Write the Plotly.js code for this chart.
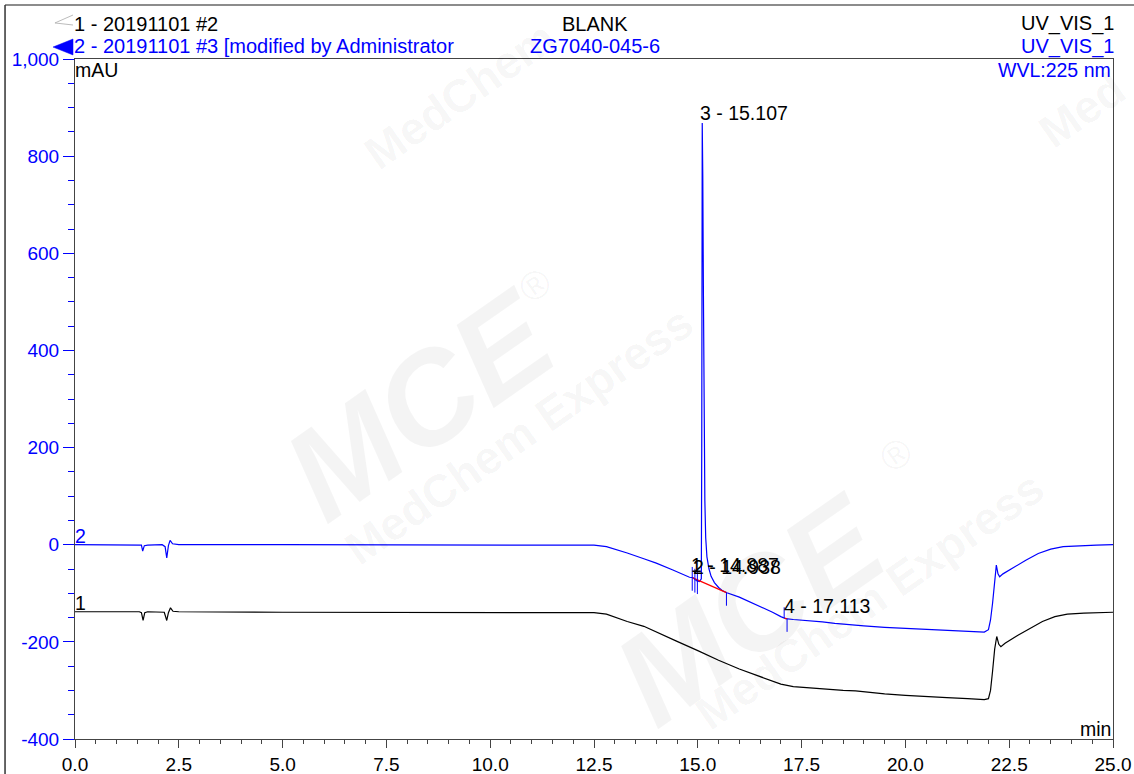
<!DOCTYPE html>
<html>
<head>
<meta charset="utf-8">
<script src="https://cdn.plot.ly/plotly-3.0.1.min.js"></script>
<style>html,body{margin:0;padding:0;background:#fff;}#chart{width:1134px;height:774px;}</style>
</head>
<body>
<div id="chart"></div>
<script>
// ---- Data ----
// Trace 2 (blue): 20191101 #3 – ZG7040-045-6
const timeBlue = [0, 0.8, 1.5, 1.6, 1.63, 1.67, 1.75, 2.1, 2.17, 2.21, 2.25, 2.29, 2.35, 2.5, 5, 8, 10, 12, 12.5, 12.8, 13.0, 13.3, 13.7, 14.0, 14.4, 14.8, 14.887, 14.92, 14.938, 14.97, 15.04, 15.085, 15.095, 15.107, 15.12, 15.135, 15.15, 15.17, 15.19, 15.22, 15.27, 15.32, 15.4, 15.5, 15.6, 15.7, 16.0, 16.5, 16.8, 17.0, 17.113, 17.3, 17.5, 17.8, 18.0, 18.3, 18.5, 18.8, 19.0, 19.5, 20.0, 20.5, 21.0, 21.5, 21.9, 22.0, 22.05, 22.1, 22.15, 22.19, 22.23, 22.27, 22.35, 22.6, 22.9, 23.2, 23.5, 23.8, 24.2, 24.6, 25];
const valBlue  = [0, 0, 0, -1, -13, -2, -1, 0, -4, -27, -2, 9, 2, 0, 0, 0, 0, 0, -1, -4, -9, -17, -29, -38, -52, -67, -68, -71, -72, -74, -76, -70, 200, 868, 760, 520, 300, 90, 15, -25, -50, -65, -78, -88, -95, -99, -108, -127, -139, -148, -152, -154, -155, -158, -159, -162, -163, -165, -167, -170, -172, -174, -176, -178, -180, -175, -155, -120, -70, -42, -60, -66, -60, -47, -32, -18, -9, -4, -2, -1, 0];

// Trace 1 (black): 20191101 #2 – BLANK
const timeBlack = [0, 0.8, 1.55, 1.6, 1.64, 1.68, 1.75, 2.15, 2.21, 2.25, 2.3, 2.36, 2.5, 5, 8, 10, 12, 12.5, 12.8, 13.0, 13.3, 13.7, 14.0, 14.5, 15.0, 15.5, 16.0, 16.5, 16.8, 17.0, 17.3, 17.7, 18.0, 18.5, 18.8, 19.0, 19.5, 20.0, 20.5, 21.0, 21.5, 21.9, 22.0, 22.05, 22.1, 22.15, 22.2, 22.25, 22.3, 22.4, 22.7, 23.0, 23.3, 23.6, 23.9, 24.3, 24.7, 25];
const valBlack  = [-138, -138, -138, -140, -156, -140, -138, -139, -156, -140, -130, -137, -138, -139, -139, -139, -139, -140, -143, -149, -158, -168, -180, -199, -218, -238, -256, -272, -281, -287, -292, -295, -297, -300, -301, -303, -307, -310, -313, -315, -317, -319, -317, -300, -260, -215, -189, -205, -210, -203, -187, -172, -158, -148, -143, -141, -140, -139];

// Peak table (trace 2)
const peakTimes  = [14.887, 14.938, 15.107, 17.113];
const peakLabels = ["1 - 14.887", "2 - 14.938", "3 - 15.107", "4 - 17.113"];
// Peak delimiters (0 = both sides, 1 = above, -1 = below) and integration baselines
const delimTimes = [14.866, 14.93, 14.99, 15.69, 17.08, 17.15];
const delimDir   = [0, 0, 0, -1, 1, -1];
const baseStart  = [14.866, 17.08];
const baseEnd    = [15.69, 17.15];

// Axis ticks
const yTickVals = [-400, -200, 0, 200, 400, 600, 800, 1000];
const yTickText = ["-400", "-200", "0", "200", "400", "600", "800", "1,000"];

// Header texts
const headerLeft   = ["1 - 20191101 #2", "2 - 20191101 #3 [modified by Administrator"];
const headerCenter = ["BLANK", "ZG7040-045-6"];
const headerRight  = ["UV_VIS_1", "UV_VIS_1"];

// ---- helpers ----
function interp(xs, ys, x) {
  for (let i = 0; i < xs.length - 1; i++) {
    if (x >= xs[i] && x <= xs[i + 1]) {
      const f = (x - xs[i]) / (xs[i + 1] - xs[i]);
      return ys[i] + f * (ys[i + 1] - ys[i]);
    }
  }
  return ys[ys.length - 1];
}

const FONT = "Liberation Sans, Arial, sans-serif";
const FS = 19;      // tick labels
const FH = 20;      // header texts
const FA = 19.5;    // in-plot annotations
const BLUE = "#0000ff";

// delimiter tick marks (short vertical blue lines)
const dx = [], dy = [];
delimTimes.forEach((t, i) => {
  const v = interp(timeBlue, valBlue, t);
  const d = delimDir[i];
  const top = d >= 0 ? v + 22 : v;
  const bot = d <= 0 ? v - 27 : v;
  dx.push(t, t, null); dy.push(top, bot, null);
});
// red baselines
const rx = [], ry = [];
baseStart.forEach((s, i) => {
  const e = baseEnd[i];
  rx.push(s, e, null);
  ry.push(interp(timeBlue, valBlue, s), interp(timeBlue, valBlue, e), null);
});

const traces = [
  {x: timeBlack, y: valBlack, mode: "lines", line: {color: "#000000", width: 1.2}, hoverinfo: "skip"},
  {x: timeBlue, y: valBlue, mode: "lines", line: {color: BLUE, width: 1.2}, hoverinfo: "skip"},
  {x: rx, y: ry, mode: "lines", line: {color: "#ff0000", width: 1.2}, hoverinfo: "skip"},
  {x: dx, y: dy, mode: "lines", line: {color: BLUE, width: 1}, hoverinfo: "skip"}
];

const ann = [];
// watermark (faint) - drawn first
const wm = "rgba(0,0,0,0.045)";
const wmarks = [
  {x: 0.332, y: 0.491, t: "<b><i>MCE</i></b>", s: 130},
  {x: 0.428, y: 0.447, t: "<b>MedChem Express</b>", s: 46},
  {x: 0.650, y: 0.190, t: "<b><i>MCE</i></b>", s: 130},
  {x: 0.766, y: 0.204, t: "<b>MedChem Express</b>", s: 46},
  {x: 0.371, y: 0.947, t: "<b>MedChem</b>", s: 46},
  {x: 0.443, y: 0.668, t: "®", s: 40},
  {x: 0.790, y: 0.418, t: "®", s: 40},
  {x: 0.97, y: 0.925, t: "<b>Med</b>", s: 46}
];
wmarks.forEach(w => ann.push({x: w.x, y: w.y, xref: "paper", yref: "paper", text: w.t, showarrow: false, textangle: -35, xanchor: "center", yanchor: "middle", font: {family: FONT, size: w.s, color: wm}}));

// peak labels
peakTimes.forEach((t, i) => {
  const v = interp(timeBlue, valBlue, t);
  const top = i === 2 ? Math.max(...valBlue) : v;
  ann.push({x: t, y: top, xref: "x", yref: "y", text: peakLabels[i], showarrow: false,
    xanchor: "left", yanchor: "bottom", xshift: -4, yshift: i === 2 ? -3 : 0,
    font: {family: FONT, size: FA, color: "#000"}});
});
// trace numbers
ann.push({x: 0, y: valBlue[0], xref: "x", yref: "y", text: "2", showarrow: false, xanchor: "left", yanchor: "bottom", xshift: -2, yshift: -4, font: {family: FONT, size: FA, color: BLUE}});
ann.push({x: 0, y: valBlack[0], xref: "x", yref: "y", text: "1", showarrow: false, xanchor: "left", yanchor: "bottom", xshift: -2, yshift: -4, font: {family: FONT, size: FA, color: "#000"}});
// header
const hy = [1.0515, 1.019];
const hc = ["#000", BLUE];
for (let i = 0; i < 2; i++) {
  ann.push({x: 0, y: hy[i], xref: "paper", yref: "paper", text: headerLeft[i], showarrow: false, xanchor: "left", yanchor: "middle", xshift: -3, font: {family: FONT, size: FH, color: hc[i]}});
  ann.push({x: 0.501, y: hy[i], xref: "paper", yref: "paper", text: headerCenter[i], showarrow: false, xanchor: "center", yanchor: "middle", font: {family: FONT, size: FH, color: hc[i]}});
  ann.push({x: 1, y: hy[i], xref: "paper", yref: "paper", text: headerRight[i], showarrow: false, xanchor: "right", yanchor: "middle", xshift: 3, font: {family: FONT, size: FH, color: hc[i]}});
}
ann.push({x: 1, y: 0.984, xref: "paper", yref: "paper", text: "WVL:225 nm", showarrow: false, xanchor: "right", yanchor: "middle", font: {family: FONT, size: FA, color: BLUE}});
ann.push({x: 0, y: 0.984, xref: "paper", yref: "paper", text: "mAU", showarrow: false, xanchor: "left", yanchor: "middle", xshift: -2, font: {family: FONT, size: FA, color: "#000"}});
ann.push({x: 1, y: 0.015, xref: "paper", yref: "paper", text: "min", showarrow: false, xanchor: "right", yanchor: "middle", font: {family: FONT, size: FA, color: "#000"}});

// frame + icons
const shapes = [
  {type: "line", xref: "paper", yref: "paper", x0: -0.0674, x1: 1.03, y0: 1.0794, y1: 1.0794, line: {color: "#666", width: 1.5}},
  {type: "line", xref: "paper", yref: "paper", x0: -0.0674, x1: -0.0674, y0: 1.0794, y1: -0.06, line: {color: "#333", width: 1.5}},
  {type: "path", xref: "paper", yref: "paper", path: "M -0.0019,1.0647 L -0.0193,1.0530 L -0.0019,1.0500", line: {color: "#aaa", width: 0.8}},
  {type: "path", xref: "paper", yref: "paper", path: "M -0.0212,1.0176 L -0.0019,1.0294 L -0.0019,1.0059 Z", fillcolor: BLUE, line: {color: BLUE, width: 0.5}}
];

const layout = {
  width: 1134, height: 774,
  margin: {l: 75, r: 21, t: 59, b: 35},
  paper_bgcolor: "#fff", plot_bgcolor: "rgba(0,0,0,0)",
  showlegend: false,
  font: {family: FONT, size: FS, color: "#000"},
  xaxis: {
    range: [0, 25], dtick: 2.5, tick0: 0, tickformat: ".1f",
    showgrid: false, zeroline: false, showline: true, mirror: true,
    linecolor: "#444", linewidth: 1,
    ticks: "outside", ticklen: 8, tickcolor: "#444", tickwidth: 1,
    tickfont: {family: FONT, size: FS, color: "#000"},
    minor: {dtick: 0.5, tick0: 0, ticks: "outside", ticklen: 4, tickcolor: "#444", showgrid: false}
  },
  yaxis: {
    range: [-400, 1000], tickmode: "array", tickvals: yTickVals, ticktext: yTickText,
    showgrid: false, zeroline: false, showline: true, mirror: true,
    linecolor: "#444", linewidth: 1,
    ticks: "outside", ticklen: 11, tickcolor: BLUE, tickwidth: 1,
    tickfont: {family: FONT, size: FS, color: BLUE},
    minor: {dtick: 50, tick0: 0, ticks: "outside", ticklen: 6, tickcolor: BLUE, showgrid: false}
  },
  annotations: ann,
  shapes: shapes
};

Plotly.newPlot("chart", traces, layout, {staticPlot: true, displayModeBar: false});
</script>
</body>
</html>
